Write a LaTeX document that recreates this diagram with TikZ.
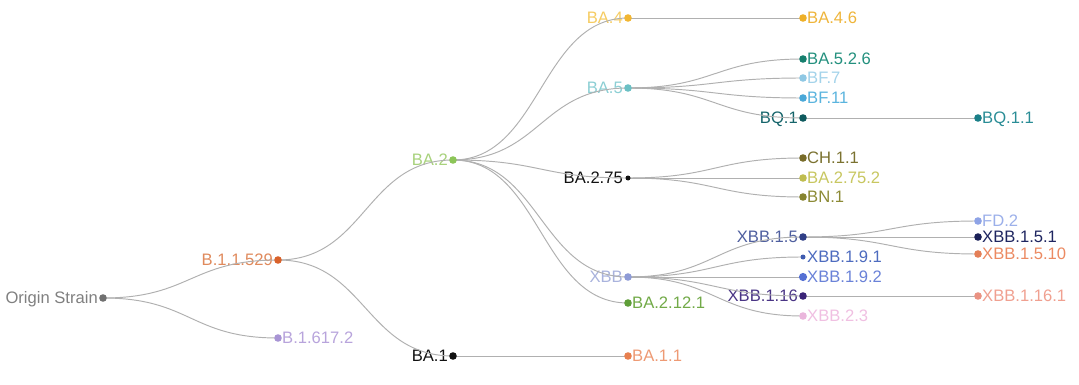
\documentclass[tikz,border=0pt]{standalone}
\usepackage{fontspec}
\setmainfont{Liberation Sans}
\usetikzlibrary{calc}
\pgfdeclarelayer{bg}
\pgfdeclarelayer{lab}
\pgfdeclarelayer{lnk}
\pgfsetlayers{bg,lab,lnk,main}
% colours: dot / text
\definecolor{dOS}{HTML}{707070}\definecolor{tOS}{HTML}{808080}
\definecolor{dB5}{HTML}{D9622B}\definecolor{tB5}{HTML}{E08A5C}
\definecolor{dB6}{HTML}{A894D4}\definecolor{tB6}{HTML}{B8A4DC}
\definecolor{dA2}{HTML}{8CC558}\definecolor{tA2}{HTML}{A8D27C}
\definecolor{dA1}{HTML}{111111}\definecolor{tA1}{HTML}{111111}
\definecolor{dA4}{HTML}{F2B632}\definecolor{tA4}{HTML}{F6CC62}
\definecolor{dA5}{HTML}{6BC0C4}\definecolor{tA5}{HTML}{8CCFD4}
\definecolor{dA275}{HTML}{111111}\definecolor{tA275}{HTML}{111111}
\definecolor{dX}{HTML}{8E9BD6}\definecolor{tX}{HTML}{A9B3DD}
\definecolor{dA2121}{HTML}{5E9E38}\definecolor{tA2121}{HTML}{72AA48}
\definecolor{dA11}{HTML}{E8804F}\definecolor{tA11}{HTML}{EE9A74}
\definecolor{dA46}{HTML}{EEB028}\definecolor{tA46}{HTML}{EFB53A}
\definecolor{dA526}{HTML}{177F6E}\definecolor{tA526}{HTML}{23907E}
\definecolor{dF7}{HTML}{8FC8E4}\definecolor{tF7}{HTML}{A3D3EA}
\definecolor{dF11}{HTML}{4AA8D8}\definecolor{tF11}{HTML}{5AB4DE}
\definecolor{dQ1}{HTML}{0E5A5E}\definecolor{tQ1}{HTML}{15646A}
\definecolor{dCH}{HTML}{786C2A}\definecolor{tCH}{HTML}{7B7230}
\definecolor{dA2752}{HTML}{BFBD50}\definecolor{tA2752}{HTML}{C8C760}
\definecolor{dBN}{HTML}{868430}\definecolor{tBN}{HTML}{8C8A35}
\definecolor{dQ11}{HTML}{1A7F88}\definecolor{tQ11}{HTML}{2A8D96}
\definecolor{dX15}{HTML}{303F86}\definecolor{tX15}{HTML}{4F5F9F}
\definecolor{dX191}{HTML}{3F5BB0}\definecolor{tX191}{HTML}{4D6BBF}
\definecolor{dX192}{HTML}{5570D4}\definecolor{tX192}{HTML}{6A82D8}
\definecolor{dX116}{HTML}{3B2478}\definecolor{tX116}{HTML}{4A3585}
\definecolor{dX23}{HTML}{EAB6DC}\definecolor{tX23}{HTML}{F0C0E2}
\definecolor{dFD}{HTML}{8EA3E6}\definecolor{tFD}{HTML}{9CB0EA}
\definecolor{dX151}{HTML}{1A2058}\definecolor{tX151}{HTML}{1E2560}
\definecolor{dX1510}{HTML}{E47F57}\definecolor{tX1510}{HTML}{EC8A62}
\definecolor{dX1161}{HTML}{EA9282}\definecolor{tX1161}{HTML}{F0A090}
\definecolor{linkgray}{HTML}{B0B0B0}
\tikzset{
  dot/.style={circle, inner sep=0pt, draw=none},
  lbl/.style={inner sep=0pt, font=\fontsize{16.6}{19}\selectfont},
  link/.style={draw=linkgray, line width=0.95pt}
}
% \sn{name}{x}{y}{radius}{colour key}{side l/r}{text}
\newcommand\sn[7]{%
  \node[dot, minimum size=#4*2, fill=d#5] (#1) at (#2,#3) {};
  \begin{pgfonlayer}{lab}
  \if l#6
    \node[lbl, text=t#5, anchor=base east] (#1-t) at (#2-5,#3+5.8) {#7};
  \else
    \node[lbl, text=t#5, anchor=base west] (#1-t) at (#2+4,#3+5.8) {#7};
  \fi
  \end{pgfonlayer}}
\newcommand\lk[2]{%
  \begin{pgfonlayer}{lnk}
  \draw[link] let \p1=(#1.center), \p2=(#2.center) in
    (#1.center) .. controls ({(\x1+\x2)/2},\y1) and ({(\x1+\x2)/2},\y2) .. (#2.center);
  \end{pgfonlayer}}
\begin{document}
\begin{tikzpicture}[x=1pt,y=-1pt]
\begin{pgfonlayer}{bg}
\fill[white] (0,0) rectangle (1079,385);
\end{pgfonlayer}
\useasboundingbox (0,0) rectangle (1079,385);
\sn{os}{103}{298}{3.8}{OS}{l}{Origin Strain}
\sn{b529}{278}{260}{3.8}{B5}{l}{B.1.1.529}
\sn{b617}{278}{338}{3.8}{B6}{r}{B.1.617.2}
\sn{ba2}{453}{160}{3.8}{A2}{l}{BA.2}
\sn{ba1}{453}{356}{3.8}{A1}{l}{BA.1}
\sn{ba4}{628}{18}{3.8}{A4}{l}{BA.4}
\sn{ba5}{628}{88}{3.8}{A5}{l}{BA.5}
\sn{ba275}{628}{178}{2.5}{A275}{l}{BA.2.75}
\sn{xbb}{628}{277}{3.8}{X}{l}{XBB}
\sn{ba2121}{628}{303}{3.8}{A2121}{r}{BA.2.12.1}
\sn{ba11}{628}{356}{3.8}{A11}{r}{BA.1.1}
\sn{ba46}{803}{18}{3.8}{A46}{r}{BA.4.6}
\sn{ba526}{803}{59}{3.8}{A526}{r}{BA.5.2.6}
\sn{bf7}{803}{78}{3.8}{F7}{r}{BF.7}
\sn{bf11}{803}{98}{3.8}{F11}{r}{BF.11}
\sn{bq1}{803}{118}{3.8}{Q1}{l}{BQ.1}
\sn{ch11}{803}{158}{3.8}{CH}{r}{CH.1.1}
\sn{ba2752}{803}{178}{3.8}{A2752}{r}{BA.2.75.2}
\sn{bn1}{803}{197}{3.8}{BN}{r}{BN.1}
\sn{x15}{803}{237}{3.8}{X15}{l}{XBB.1.5}
\sn{x191}{803}{257}{2.5}{X191}{r}{XBB.1.9.1}
\sn{x192}{803}{277}{4.1}{X192}{r}{XBB.1.9.2}
\sn{x116}{803}{296}{3.8}{X116}{l}{XBB.1.16}
\sn{x23}{803}{316}{3.8}{X23}{r}{XBB.2.3}
\sn{bq11}{978}{118}{3.8}{Q11}{r}{BQ.1.1}
\sn{fd2}{978}{221}{3.8}{FD}{r}{FD.2}
\sn{x151}{978}{237}{3.8}{X151}{r}{XBB.1.5.1}
\sn{x1510}{978}{254}{3.8}{X1510}{r}{XBB.1.5.10}
\sn{x1161}{978}{296}{3.8}{X1161}{r}{XBB.1.16.1}
\lk{os}{b529}\lk{os}{b617}
\lk{b529}{ba2}\lk{b529}{ba1}
\lk{ba2}{ba4}\lk{ba2}{ba5}\lk{ba2}{ba275}\lk{ba2}{xbb}\lk{ba2}{ba2121}
\lk{ba1}{ba11}
\lk{ba4}{ba46}
\lk{ba5}{ba526}\lk{ba5}{bf7}\lk{ba5}{bf11}\lk{ba5}{bq1}
\lk{ba275}{ch11}\lk{ba275}{ba2752}\lk{ba275}{bn1}
\lk{xbb}{x15}\lk{xbb}{x191}\lk{xbb}{x192}\lk{xbb}{x116}\lk{xbb}{x23}
\lk{bq1}{bq11}
\lk{x15}{fd2}\lk{x15}{x151}\lk{x15}{x1510}
\lk{x116}{x1161}
\end{tikzpicture}
\end{document}
